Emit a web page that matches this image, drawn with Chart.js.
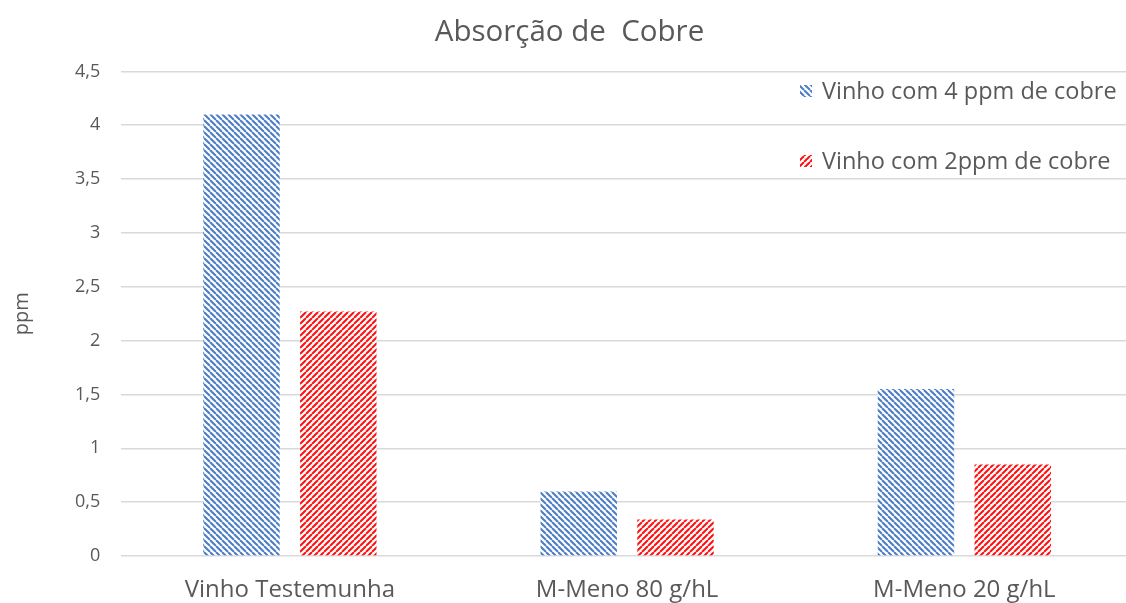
<!DOCTYPE html>
<html>
<head>
<meta charset="utf-8">
<script src="https://cdn.jsdelivr.net/npm/chart.js@4/dist/chart.umd.min.js"></script>
<style>
  html, body { margin: 0; padding: 0; background: #fff; overflow: hidden; }
  #wrap { width: 1140px; height: 603px; }
</style>
</head>
<body>
<div id="wrap"><canvas id="chart"></canvas></div>
<script>
// data
let categories = ["Vinho Testemunha", "M-Meno 80 g/hL", "M-Meno 20 g/hL"];
let seriesNames = ["Vinho com 4 ppm de cobre", "Vinho com 2ppm de cobre"];
let cobre4 = [4.1, 0.6, 1.55];
let cobre2 = [2.27, 0.34, 0.85];
let yTicks = [0, 0.5, 1, 1.5, 2, 2.5, 3, 3.5, 4, 4.5];

let textColor = "#595959";
let fontName = "'Open Sans', 'Noto Sans', sans-serif";

// hatch patterns
function makeHatch(color, dir) {
    let n = 6;
    let c = document.createElement("canvas");
    c.width = n;
    c.height = n;
    let ctx = c.getContext("2d");
    ctx.fillStyle = "#fff";
    ctx.fillRect(0, 0, n, n);
    ctx.strokeStyle = color;
    ctx.lineWidth = 2;
    ctx.beginPath();
    for (let k = -n; k <= n; k += n) {
        if (dir == "down") {
            ctx.moveTo(k, 0);
            ctx.lineTo(k + n, n);
        } else {
            ctx.moveTo(k, n);
            ctx.lineTo(k + n, 0);
        }
    }
    ctx.stroke();
    return ctx.createPattern(c, "repeat");
}

let bluePat = makeHatch("#4a7cc6", "down");
let redPat = makeHatch("#ff1010", "up");

// legend drawn in the top right of the plot
let sideLegend = {
    id: "sideLegend",
    afterDraw(chart) {
        let ctx = chart.ctx;
        let items = chart.data.datasets;
        ctx.save();
        ctx.font = "23.5px " + fontName;
        ctx.textBaseline = "middle";
        for (let i = 0; i < items.length; i++) {
            let y = 91 + i * 70;
            let x = 800;
            ctx.fillStyle = items[i].backgroundColor;
            ctx.fillRect(x, y - 6, 12, 12);
            ctx.fillStyle = textColor;
            ctx.fillText(items[i].label, x + 22, y + 1);
        }
        ctx.restore();
    }
};

var data = {
    labels: categories,
    datasets: [{
        label: seriesNames[0],
        backgroundColor: bluePat,
        borderWidth: 0,
        data: cobre4
    }, {
        label: seriesNames[1],
        backgroundColor: redPat,
        borderWidth: 0,
        data: cobre2
    }]
};

var options = {
    responsive: true,
    maintainAspectRatio: false,
    animation: false,
    layout: { padding: { left: 6, right: 7, top: 8, bottom: 0 } },
    datasets: {
        bar: { categoryPercentage: 0.574, barPercentage: 0.79 }
    },
    plugins: {
        legend: { display: false },
        tooltip: { enabled: false },
        title: {
            display: true,
            text: "Absorção de  Cobre",
            color: textColor,
            font: { family: fontName, size: 29.5, weight: "normal" },
            padding: { top: 7, bottom: 21 }
        }
    },
    scales: {
        y: {
            min: 0,
            max: 4.5,
            afterBuildTicks(axis) {
                axis.ticks = yTicks.map(v => ({ value: v }));
            },
            ticks: {
                color: textColor,
                font: { family: fontName, size: 18 },
                padding: 21,
                callback: v => String(v).replace(".", ",")
            },
            grid: { color: "#d9d9d9", lineWidth: 1.5, drawTicks: false },
            border: { display: false },
            title: {
                display: true,
                text: "ppm",
                color: textColor,
                font: { family: fontName, size: 20 },
                padding: { bottom: 20 }
            }
        },
        x: {
            afterFit(axis) {
                axis.height = 47;
            },
            ticks: {
                color: textColor,
                font: { family: fontName, size: 24 },
                padding: 20
            },
            grid: { display: false, drawTicks: false },
            border: { display: false }
        }
    }
};

new Chart("chart", {
    type: "bar",
    data: data,
    options: options,
    plugins: [sideLegend]
});
</script>
</body>
</html>
